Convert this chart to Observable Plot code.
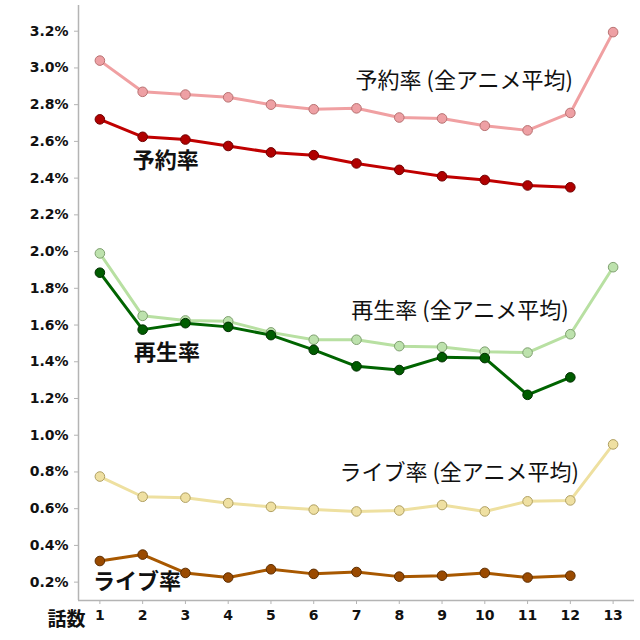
<!DOCTYPE html>
<html>
<head>
<meta charset="utf-8">
<script src="https://cdn.jsdelivr.net/npm/d3@7"></script>
<script src="https://cdn.jsdelivr.net/npm/@observablehq/plot@0.6"></script>
<style>
  html, body { margin: 0; padding: 0; background: #fff; }
  #chart { width: 640px; height: 640px; }
</style>
</head>
<body>
<div id="chart"></div>
<script>
const episodes = [1,2,3,4,5,6,7,8,9,10,11,12,13];
const yoyakuAvg = [3.04,2.87,2.855,2.84,2.80,2.775,2.78,2.73,2.725,2.685,2.66,2.755,3.195];
const yoyaku    = [2.72,2.625,2.61,2.575,2.54,2.525,2.48,2.445,2.41,2.39,2.36,2.35];
const saiseiAvg = [1.99,1.65,1.625,1.62,1.56,1.52,1.52,1.485,1.48,1.455,1.45,1.55,1.915];
const saisei    = [1.885,1.575,1.61,1.59,1.545,1.465,1.375,1.355,1.425,1.42,1.22,1.315];
const liveAvg   = [0.775,0.665,0.66,0.63,0.61,0.595,0.585,0.59,0.62,0.585,0.64,0.645,0.95];
const live      = [0.315,0.35,0.25,0.225,0.27,0.245,0.255,0.23,0.235,0.25,0.225,0.235];
const yTicks = [0.2,0.4,0.6,0.8,1.0,1.2,1.4,1.6,1.8,2.0,2.2,2.4,2.6,2.8,3.0,3.2];

const seriesList = [
  {name: "予約率 (全アニメ平均)", values: yoyakuAvg, line: "#f0a0a2", fill: "#eea0a4", stroke: "#b87272"},
  {name: "再生率 (全アニメ平均)", values: saiseiAvg, line: "#b8e0a2", fill: "#bde2ad", stroke: "#7fa070"},
  {name: "ライブ率 (全アニメ平均)", values: liveAvg, line: "#eee0a0", fill: "#efe0a2", stroke: "#b0a062"},
  {name: "予約率", values: yoyaku, line: "#c00000", fill: "#b00000", stroke: "#700000"},
  {name: "再生率", values: saisei, line: "#006400", fill: "#005c00", stroke: "#002e00"},
  {name: "ライブ率", values: live, line: "#a85800", fill: "#9a4a00", stroke: "#5e2e00"}
];

// annotation labels placed in data space
const labelText  = ["予約率 (全アニメ平均)", "予約率", "再生率 (全アニメ平均)", "再生率", "ライブ率 (全アニメ平均)", "ライブ率"];
const labelX     = [9.52, 2.54, 9.42, 2.57, 9.4, 1.87];
const labelY     = [2.93, 2.496, 1.679, 1.45, 0.797, 0.203];
const labelBold  = [false, true, false, true, false, true];
const labels = labelText.map((t, i) => ({t, x: labelX[i], y: labelY[i], bold: labelBold[i]}));

const marks = [
  Plot.ruleX([0.5], {stroke: "#b4b4b4", strokeWidth: 1.5}),
  Plot.ruleY([0.1], {stroke: "#b4b4b4", strokeWidth: 1.5}),
  Plot.axisY(yTicks, {
    tickFormat: d => d.toFixed(1) + "%", tickSize: 4, tickPadding: 6,
    stroke: "#b4b4b4", fill: "#111", fontSize: 14, fontWeight: "bold", label: null
  }),
  Plot.axisX(episodes, {
    tickFormat: d => String(d), tickSize: 4, tickPadding: 6,
    stroke: "#b4b4b4", fill: "#111", fontSize: 14, fontWeight: "bold", label: null
  }),
  Plot.text(["話数"], {frameAnchor: "bottom-left", textAnchor: "middle", lineAnchor: "middle", dx: -12, dy: 19, fontSize: 19, fontWeight: "bold", fill: "#111", fontFamily: "Noto Sans CJK JP"})
];

for (const s of seriesList) {
  const data = s.values.map((v, i) => ({x: episodes[i], y: v}));
  marks.push(Plot.line(data, {x: "x", y: "y", stroke: s.line, strokeWidth: 3}));
}
for (const s of seriesList) {
  const data = s.values.map((v, i) => ({x: episodes[i], y: v}));
  marks.push(Plot.dot(data, {x: "x", y: "y", r: 4.8, fill: s.fill, stroke: s.stroke, strokeWidth: 1}));
}
marks.push(Plot.text(labels.filter(d => !d.bold), {x: "x", y: "y", text: "t", fontSize: 22, fill: "#111", fontFamily: "Noto Sans CJK JP"}));
marks.push(Plot.text(labels.filter(d => d.bold), {x: "x", y: "y", text: "t", fontSize: 22, fontWeight: "bold", fill: "#111", fontFamily: "Noto Sans CJK JP"}));

const chart = Plot.plot({
  width: 640,
  height: 640,
  marginLeft: 78,
  marginRight: 6,
  marginTop: 5,
  marginBottom: 40,
  style: {fontFamily: "DejaVu Sans", background: "#fff"},
  x: {type: "linear", domain: [0.5, 13.5]},
  y: {domain: [0.1, 3.34]},
  marks
});
document.getElementById("chart").appendChild(chart);
</script>
</body>
</html>
